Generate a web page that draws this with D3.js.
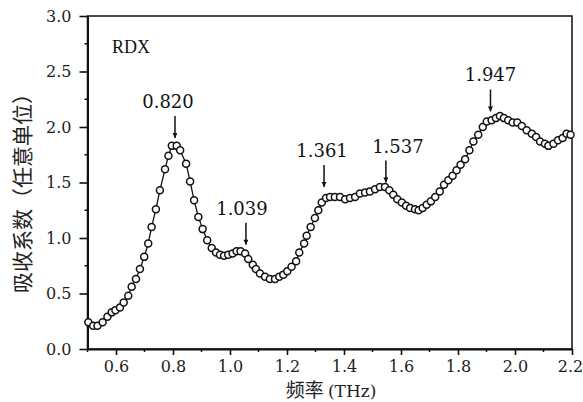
<!DOCTYPE html>
<html>
<head>
<meta charset="utf-8">
<script src="https://cdn.jsdelivr.net/npm/d3@7/dist/d3.min.js"></script>
<style>
  body { margin: 0; background: #fff; }
  svg { display: block; }
</style>
</head>
<body>
<svg id="chart" width="583" height="402"></svg>
<script>
"use strict";

// absorption spectrum of RDX
var freq = [0.503, 0.520, 0.535, 0.553, 0.570, 0.585, 0.598, 0.614, 0.627, 0.643,
  0.655, 0.670, 0.684, 0.699, 0.713, 0.725, 0.740, 0.754, 0.772, 0.784,
  0.796, 0.813, 0.825, 0.846, 0.860, 0.874, 0.889, 0.904, 0.920, 0.936,
  0.951, 0.965, 0.979, 0.994, 1.009, 1.023, 1.037, 1.053, 1.064, 1.080,
  1.091, 1.105, 1.123, 1.140, 1.158, 1.173, 1.187, 1.201, 1.216, 1.232,
  1.243, 1.260, 1.269, 1.283, 1.298, 1.310, 1.322, 1.337, 1.351, 1.368,
  1.386, 1.404, 1.421, 1.439, 1.456, 1.474, 1.491, 1.509, 1.526, 1.544,
  1.559, 1.573, 1.587, 1.603, 1.618, 1.632, 1.649, 1.662, 1.676, 1.690,
  1.705, 1.720, 1.736, 1.751, 1.766, 1.781, 1.795, 1.809, 1.825, 1.840,
  1.854, 1.871, 1.887, 1.901, 1.918, 1.933, 1.947, 1.961, 1.976, 1.992,
  2.008, 2.024, 2.041, 2.059, 2.074, 2.088, 2.105, 2.117, 2.135, 2.151,
  2.167, 2.181, 2.195];
var absorb = [0.24, 0.21, 0.21, 0.24, 0.29, 0.33, 0.35, 0.375, 0.42, 0.48,
  0.56, 0.63, 0.72, 0.83, 0.95, 1.10, 1.26, 1.43, 1.62, 1.74,
  1.83, 1.83, 1.79, 1.67, 1.51, 1.34, 1.19, 1.08, 0.98, 0.91,
  0.87, 0.85, 0.84, 0.85, 0.86, 0.88, 0.88, 0.86, 0.81, 0.76,
  0.72, 0.68, 0.65, 0.63, 0.63, 0.65, 0.67, 0.70, 0.74, 0.79,
  0.87, 0.95, 1.02, 1.10, 1.18, 1.25, 1.32, 1.36, 1.37, 1.37,
  1.37, 1.35, 1.36, 1.37, 1.40, 1.41, 1.42, 1.44, 1.46, 1.46,
  1.43, 1.39, 1.35, 1.32, 1.29, 1.27, 1.26, 1.25, 1.27, 1.30,
  1.33, 1.37, 1.42, 1.48, 1.52, 1.56, 1.61, 1.66, 1.71, 1.79,
  1.87, 1.93, 2.00, 2.05, 2.06, 2.08, 2.10, 2.08, 2.06, 2.04,
  2.04, 2.01, 1.97, 1.94, 1.91, 1.87, 1.85, 1.83, 1.85, 1.88,
  1.90, 1.94, 1.93];

// peak annotations: label, arrow x, arrow tip y
var peakLabels = ["0.820", "1.039", "1.361", "1.537", "1.947"];
var peakX = [0.807, 1.056, 1.330, 1.547, 1.914];
var peakY = [1.90, 0.94, 1.46, 1.50, 2.14];
var labelShift = [-7, -4, -2, 12, 0];

var xTicks = [0.6, 0.8, 1.0, 1.2, 1.4, 1.6, 1.8, 2.0, 2.2];
var yTicks = [0.0, 0.5, 1.0, 1.5, 2.0, 2.5, 3.0];

var svg = d3.select("#chart");
var serif = "'DejaVu Serif', serif";

var x = d3.scaleLinear().domain([0.5, 2.2]).range([87.5, 572]);
var y = d3.scaleLinear().domain([0, 3]).range([349, 16]);

// frame
svg.append("rect")
  .attr("x", x(0.5)).attr("y", y(3))
  .attr("width", x(2.2) - x(0.5)).attr("height", y(0) - y(3))
  .attr("fill", "none").attr("stroke", "#111").attr("stroke-width", 1.5);

// minor ticks
var xMinor = d3.range(5, 22, 2).map(function(d){ return d / 10 });
var yMinor = d3.range(1, 12, 2).map(function(d){ return d / 4 });

svg.selectAll(".xminor").data(xMinor).enter().append("line")
  .attr("x1", function(d){ return x(d) }).attr("x2", function(d){ return x(d) })
  .attr("y1", y(0)).attr("y2", y(0) + 3)
  .attr("stroke", "#111").attr("stroke-width", 1.5);
svg.selectAll(".yminor").data(yMinor).enter().append("line")
  .attr("x1", x(0.5) - 3).attr("x2", x(0.5))
  .attr("y1", function(d){ return y(d) }).attr("y2", function(d){ return y(d) })
  .attr("stroke", "#111").attr("stroke-width", 1.5);

var xAxis = svg.append("g")
  .attr("transform", "translate(0," + y(0) + ")")
  .call(d3.axisBottom(x).tickValues(xTicks).tickSize(6).tickSizeOuter(0).tickPadding(6)
    .tickFormat(d3.format(".1f")));
var yAxis = svg.append("g")
  .attr("transform", "translate(" + x(0.5) + ",0)")
  .call(d3.axisLeft(y).tickValues(yTicks).tickSize(8).tickSizeOuter(0).tickPadding(8)
    .tickFormat(d3.format(".1f")));

[xAxis, yAxis].forEach(function(g){
  g.select(".domain").attr("stroke", "#111").attr("stroke-width", 2);
  g.selectAll(".tick line").attr("stroke", "#111").attr("stroke-width", 1.6);
  g.selectAll(".tick text")
    .attr("fill", "#222")
    .style("font-family", serif)
    .style("font-size", "16px");
});
// last x label sits against the page edge
xAxis.selectAll(".tick text").filter(function(d){ return d === 2.2 }).attr("dx", "-2");

// data line + markers
var pts = freq.map(function(d, i){ return [d, absorb[i]] });

svg.append("path")
  .datum(pts)
  .attr("fill", "none")
  .attr("stroke", "#111")
  .attr("stroke-width", 1.3)
  .attr("d", d3.line().x(function(d){ return x(d[0]) }).y(function(d){ return y(d[1]) }));

svg.selectAll(".pt").data(pts).enter().append("circle")
  .attr("cx", function(d){ return x(d[0]) })
  .attr("cy", function(d){ return y(d[1]) })
  .attr("r", 3.5)
  .attr("fill", "#fff")
  .attr("stroke", "#111")
  .attr("stroke-width", 1.5);

// arrows and peak labels
var defs = svg.append("defs");
defs.append("marker")
  .attr("id", "head")
  .attr("viewBox", "0 0 10 10")
  .attr("refX", 10).attr("refY", 5)
  .attr("markerWidth", 7).attr("markerHeight", 5)
  .attr("markerUnits", "userSpaceOnUse")
  .attr("orient", "auto")
  .append("path").attr("d", "M0,0 L10,5 L0,10 Z").attr("fill", "#111");

peakLabels.forEach(function(lab, i){
  var px = x(peakX[i]), py = y(peakY[i]);
  svg.append("line")
    .attr("x1", px).attr("x2", px)
    .attr("y1", py - 22).attr("y2", py)
    .attr("stroke", "#111").attr("stroke-width", 1.5)
    .attr("marker-end", "url(#head)");
  svg.append("text")
    .attr("x", px + labelShift[i]).attr("y", py - 30)
    .attr("text-anchor", "middle")
    .style("font-family", serif)
    .style("font-size", "18px")
    .attr("fill", "#111")
    .text(lab);
});

svg.append("text")
  .attr("x", 112).attr("y", 53)
  .style("font-family", "'Liberation Serif', serif")
  .style("font-size", "18px")
  .attr("fill", "#111")
  .text("RDX");

// axis titles
svg.append("text")
  .attr("transform", "translate(30,188) rotate(-90)")
  .attr("text-anchor", "middle")
  .style("font-family", "'Noto Sans CJK SC', sans-serif")
  .style("font-size", "21px")
  .attr("fill", "#222")
  .text("吸收系数（任意单位）");

var xt = svg.append("text")
  .attr("x", 331).attr("y", 397)
  .attr("text-anchor", "middle")
  .attr("fill", "#222");
xt.append("tspan")
  .style("font-family", "'Noto Sans CJK SC', sans-serif")
  .style("font-size", "19px")
  .text("频率 ");
xt.append("tspan")
  .style("font-family", serif)
  .style("font-size", "17px")
  .text("(THz)");
</script>
</body>
</html>
